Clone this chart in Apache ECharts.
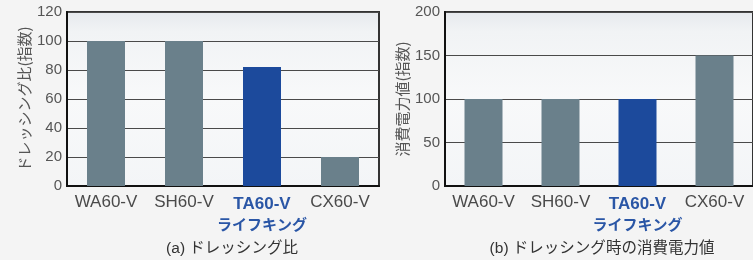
<!DOCTYPE html>
<html>
<head>
<meta charset="utf-8">
<script src="https://cdn.jsdelivr.net/npm/echarts@6/dist/echarts.min.js"></script>
<style>
  html, body { margin: 0; padding: 0; background: #f4f4f4; }
  #chart { width: 753px; height: 260px; }
</style>
</head>
<body>
<div id="chart"></div>
<script>
// ドレッシング比 / 消費電力値 の比較（2 グリッドの棒グラフ）
const models = ['WA60-V', 'SH60-V', 'TA60-V', 'CX60-V']
const ownModel = 'TA60-V'
const dressingRatio = [100, 100, 82, 20]
const powerValue = [100, 100, 100, 150]

const GRAY = '#6a808b'
const BLUE = '#1c4a9c'
// 英数字は Liberation Sans、かなは Noto Sans CJK JP にフォールバック
const FONT = '"Liberation Sans", "Noto Sans CJK JP", sans-serif'
const CJK = '"Noto Sans CJK JP", sans-serif'

const plotBg = new echarts.graphic.LinearGradient(0, 0, 0, 1, [
  { offset: 0, color: '#e6e9ed' },
  { offset: 0.12, color: '#f1f3f5' },
  { offset: 0.5, color: '#f8f9fa' },
  { offset: 1, color: '#f3f5f7' },
])

function barData(values) {
  return values.map((v, i) => ({
    value: v,
    itemStyle: { color: models[i] === ownModel ? BLUE : GRAY },
  }))
}

function xAxis(gridIndex) {
  return {
    type: 'category',
    gridIndex,
    data: models,
    axisTick: { show: false },
    axisLine: { lineStyle: { color: '#111', width: 2 } },
    axisLabel: {
      interval: 0,
      margin: 8,
      fontFamily: FONT,
      fontSize: 17,
      color: '#4a4a4a',
      formatter: (v) => (v === ownModel ? '{b|' + v + '}\n{k|ライフキング}' : v),
      rich: {
        b: { fontFamily: FONT, fontSize: 17, fontWeight: 'bold', color: '#2a56a6', lineHeight: 21 },
        k: { fontFamily: FONT, fontSize: 15, fontWeight: 'bold', color: '#2a56a6', lineHeight: 21 },
      },
    },
  }
}

function yAxis(gridIndex, name, max, interval) {
  return {
    type: 'value',
    gridIndex,
    min: 0,
    max,
    interval,
    name,
    nameLocation: 'middle',
    nameRotate: 90,
    nameGap: 35,
    nameTextStyle: { fontFamily: CJK, fontSize: 15, color: '#555' },
    axisLine: { show: true, lineStyle: { color: '#111', width: 2 } },
    axisTick: { show: false },
    axisLabel: { margin: 5, fontFamily: FONT, fontSize: 15, color: '#555' },
    splitLine: { lineStyle: { color: '#4a4a4a', width: 1.2 } },
  }
}

const captionStyle = { fontFamily: FONT, fontSize: 15.5, fontWeight: 'normal', color: '#333' }

const chart = echarts.init(document.getElementById('chart'))
chart.setOption({
  backgroundColor: '#f4f4f4',
  animation: false,
  title: [
    { text: '(a) ドレッシング比', left: 227, top: 236, textAlign: 'center', textStyle: captionStyle },
    { text: '(b) ドレッシング時の消費電力値', left: 597, top: 236, textAlign: 'center', textStyle: captionStyle },
  ],
  grid: [
    { left: 67, top: 12, width: 312, height: 174, show: true, backgroundColor: plotBg, borderColor: '#333', borderWidth: 2 },
    { left: 445, top: 12, width: 312, height: 174, show: true, backgroundColor: plotBg, borderColor: '#333', borderWidth: 2 },
  ],
  xAxis: [xAxis(0), xAxis(1)],
  yAxis: [
    yAxis(0, 'ドレッシング比(指数)', 120, 20),
    yAxis(1, '消費電力値(指数)', 200, 50),
  ],
  series: [
    { type: 'bar', xAxisIndex: 0, yAxisIndex: 0, barWidth: 38, data: barData(dressingRatio) },
    { type: 'bar', xAxisIndex: 1, yAxisIndex: 1, barWidth: 38, data: barData(powerValue) },
  ],
})
</script>
</body>
</html>
